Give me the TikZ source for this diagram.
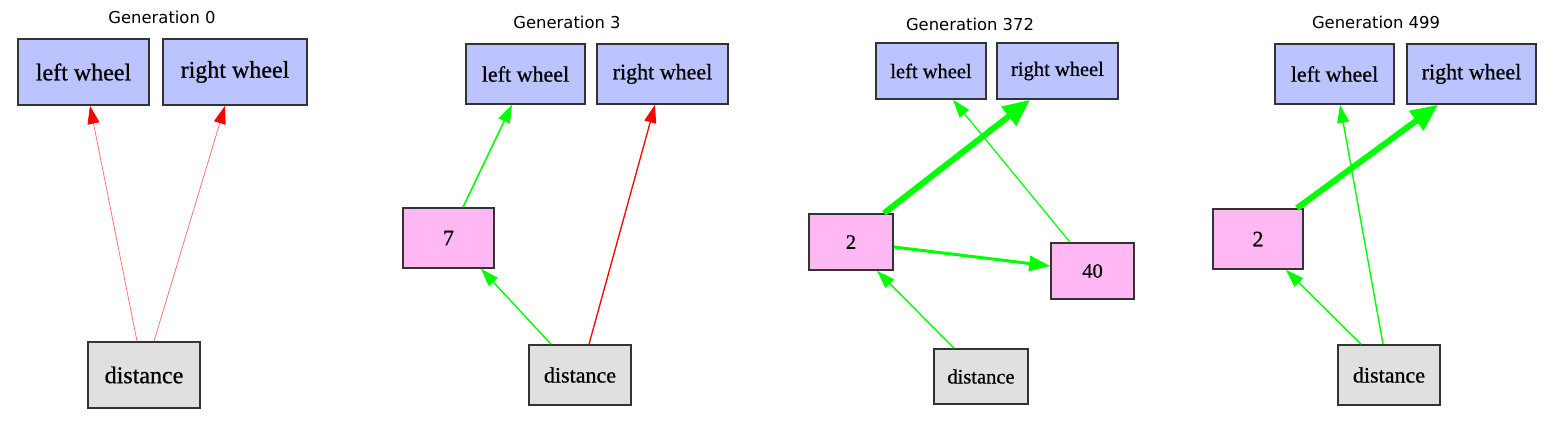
\documentclass[tikz,border=0pt]{standalone}
\usepackage{fontspec}
\setmainfont[FakeBold=0.7]{Liberation Serif}
\newfontfamily\gentitle{DejaVu Sans}
\usetikzlibrary{arrows.meta}
\definecolor{wheelblue}{HTML}{BCC4FF}
\definecolor{hiddenpink}{HTML}{FFB8F4}
\definecolor{sensorgray}{HTML}{E0E0E0}
\definecolor{edgegreen}{HTML}{00FF00}
\definecolor{boxline}{HTML}{333333}
\begin{document}
\begin{tikzpicture}[x=1pt, y=-1pt,
    unit/.style={draw=boxline, line width=1.6pt, inner sep=0pt},
    wheel/.style={unit, fill=wheelblue},
    hidden/.style={unit, fill=hiddenpink},
    sensor/.style={unit, fill=sensorgray},
    title/.style={font=\gentitle\fontsize{16.4}{18}\selectfont},
    palelink/.style={draw=red!60, line width=0.7pt, -{Triangle[length=18pt,width=12pt,color=red]}},
    redlink/.style={draw=red, line width=#1, -{Triangle[length=18pt,width=12pt]}},
    greenlink/.style={draw=edgegreen, line width=#1, -{Triangle[length=18pt,width=12pt]}},
    midlink/.style={draw=edgegreen, line width=3pt, -{Triangle[length=21pt,width=15pt]}},
    heavylink/.style={draw=edgegreen, line width=6pt, -{Triangle[length=27pt,width=23pt]}}]
    \useasboundingbox (0,0) rectangle (1554,427);
\node[title] (t0) at (162,17) {Generation 0};
\node[wheel, minimum width=131pt, minimum height=66pt, font=\fontsize{24}{26}\selectfont] (lw0) at (83.5,72) {left wheel};
\node[wheel, minimum width=144pt, minimum height=66pt, font=\fontsize{24}{26}\selectfont] (rw0) at (235,72) {right wheel};
\node[sensor, minimum width=112pt, minimum height=66pt, font=\fontsize{24}{26}\selectfont] (d0) at (144,375) {distance};
    \draw[palelink] ([xshift=-7pt]d0.north) -- ([xshift=6.5pt]lw0.south);
    \draw[palelink] ([xshift=10pt]d0.north) -- ([xshift=-10pt]rw0.south);
\node[title] (t3) at (567,22) {Generation 3};
\node[wheel, minimum width=119pt, minimum height=60pt, font=\fontsize{22}{24}\selectfont] (lw3) at (525.5,74) {left wheel};
\node[wheel, minimum width=131pt, minimum height=60pt, font=\fontsize{22}{24}\selectfont] (rw3) at (662.5,74) {right wheel};
\node[hidden, minimum width=91pt, minimum height=60pt, font=\fontsize{22}{24}\selectfont] (h3) at (448.5,238) {7};
\node[sensor, minimum width=102pt, minimum height=60pt, font=\fontsize{22}{24}\selectfont] (d3) at (580,375) {distance};
    \draw[greenlink=1.6pt] ([xshift=14.5pt]h3.north) -- ([xshift=-13.5pt]lw3.south);
    \draw[greenlink=1.4pt] ([xshift=-29pt]d3.north) -- ([xshift=32.5pt]h3.south);
    \draw[redlink=1.3pt] ([xshift=9pt]d3.north) -- ([xshift=-7.5pt]rw3.south);
\node[title] (t372) at (970,24) {Generation 372};
\node[wheel, minimum width=110pt, minimum height=56pt, font=\fontsize{20.5}{22}\selectfont] (lw372) at (931,71) {left wheel};
\node[wheel, minimum width=121pt, minimum height=56pt, font=\fontsize{20.5}{22}\selectfont] (rw372) at (1057.5,71) {right wheel};
\node[hidden, minimum width=84pt, minimum height=56pt, font=\fontsize{20.5}{22}\selectfont] (h372a) at (851,242) {2};
\node[hidden, minimum width=83pt, minimum height=56pt, font=\fontsize{20.5}{22}\selectfont] (h372b) at (1092.5,271) {40};
\node[sensor, minimum width=94pt, minimum height=55pt, font=\fontsize{20.5}{22}\selectfont] (d372) at (981,376.5) {distance};
    \draw[greenlink=1.2pt] ([xshift=-22.5pt]h372b.north) -- ([xshift=22pt]lw372.south);
    \draw[heavylink] ([xshift=33pt]h372a.north) -- ([xshift=-27.5pt]rw372.south);
    \draw[midlink] ([yshift=-5pt]h372a.east) -- ([yshift=5pt]h372b.west);
    \draw[greenlink=1.4pt] ([xshift=-27pt]d372.north) -- ([xshift=26pt]h372a.south);
\node[title] (t499) at (1376,22) {Generation 499};
\node[wheel, minimum width=119pt, minimum height=60pt, font=\fontsize{22}{24}\selectfont] (lw499) at (1334.5,74) {left wheel};
\node[wheel, minimum width=129pt, minimum height=60pt, font=\fontsize{22}{24}\selectfont] (rw499) at (1471.5,74) {right wheel};
\node[hidden, minimum width=90pt, minimum height=60pt, font=\fontsize{22}{24}\selectfont] (h499) at (1258,239) {2};
\node[sensor, minimum width=102pt, minimum height=60pt, font=\fontsize{22}{24}\selectfont] (d499) at (1389,375) {distance};
    \draw[heavylink] ([xshift=39pt]h499.north) -- ([xshift=-33.5pt]rw499.south);
    \draw[greenlink=1.4pt] ([xshift=-28pt]d499.north) -- ([xshift=28pt]h499.south);
    \draw[greenlink=1.4pt] ([xshift=-6pt]d499.north) -- ([xshift=5.5pt]lw499.south);
    \end{tikzpicture}
\end{document}
